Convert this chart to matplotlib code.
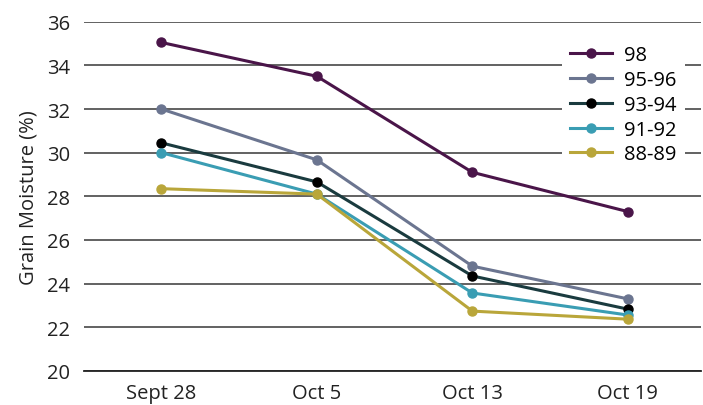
import matplotlib
matplotlib.use("Agg")
import matplotlib.pyplot as plt

dates = ["Sept 28", "Oct 5", "Oct 13", "Oct 19"]
series_names = ["98", "95-96", "93-94", "91-92", "88-89"]
s98 = [35.05, 33.5, 29.1, 27.3]
s95_96 = [32.0, 29.67, 24.8, 23.3]
s93_94 = [30.45, 28.66, 24.35, 22.83]
s91_92 = [30.0, 28.1, 23.57, 22.56]
s88_89 = [28.35, 28.1, 22.74, 22.37]
yticks = [20, 22, 24, 26, 28, 30, 32, 34, 36]

values = [s98, s95_96, s93_94, s91_92, s88_89]
line_colors = ["#4a1549", "#6b7590", "#1a3b3f", "#3a9db3", "#b9a63a"]
marker_colors = ["#4a1549", "#6b7590", "#000000", "#3a9db3", "#b9a63a"]

plt.rcParams['font.family'] = ['Open Sans', 'DejaVu Sans']

fig = plt.figure(figsize=(7.03, 4.06), dpi=100)
ax = fig.add_axes([0.119, 0.084, 0.878, 0.86])

x = list(range(len(dates)))
for name, vals, lc, mc in zip(series_names, values, line_colors, marker_colors):
    ax.plot(x, vals, color=lc, lw=2.2, marker='o', markersize=6.5,
            markerfacecolor=mc, markeredgecolor=mc, label=name, zorder=3)

ax.set_ylim(20, 36)
ax.set_yticks(yticks)
ax.set_xlim(-0.5, 3.47)
ax.set_xticks(x)
ax.set_xticklabels(dates)
ax.yaxis.grid(True, color="#555555", lw=1.3)
ax.set_axisbelow(True)
for s in ["top", "right", "left"]:
    ax.spines[s].set_visible(False)
ax.spines["bottom"].set_color("#222222")
ax.spines["bottom"].set_linewidth(1.3)
ax.tick_params(axis='both', length=0, labelsize=14.5, colors="#222222")
ax.tick_params(axis='y', pad=10)
ax.tick_params(axis='x', pad=9)
ax.set_ylabel("Grain Moisture (%)", fontsize=14.5, color="#222222", labelpad=6)

leg = ax.legend(loc="upper right", bbox_to_anchor=(0.99, 0.985), fontsize=14.5,
                frameon=True, facecolor="white", edgecolor="white", framealpha=1,
                handlelength=2.1, labelspacing=0.24, borderpad=0.4, handletextpad=0.6)
leg.get_frame().set_linewidth(0)

fig.savefig("out.png", dpi=100)
